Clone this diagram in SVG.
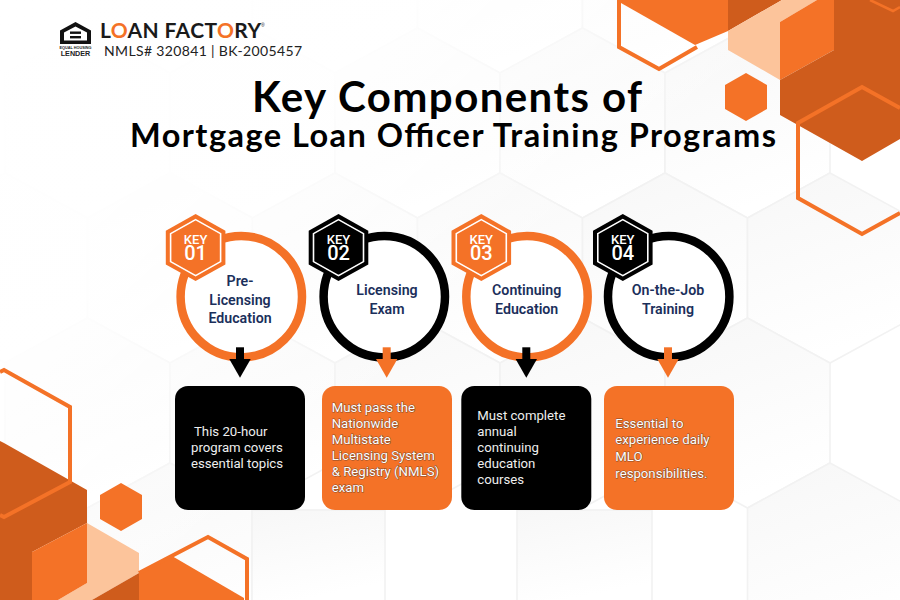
<svg xmlns="http://www.w3.org/2000/svg" width="900" height="600" viewBox="0 0 900 600">
<style>
.o{fill:#f47227}.d{fill:#cf5c1c}.p{fill:#fcc49b}
.ol{fill:none;stroke:#f47227;stroke-width:4}
.bg{fill:url(#bgg);stroke:#f2f2f2;stroke-width:1.6}
.t{font-family:"Lato","Liberation Sans",sans-serif;font-weight:700;fill:#000;text-anchor:middle}
.lab{font-family:"Roboto","Liberation Sans",sans-serif;font-weight:600;font-size:14.2px;fill:#1b2f5b;text-anchor:middle}
.key{font-family:"Roboto","Liberation Sans",sans-serif;font-weight:500;font-size:13px;fill:#fff;text-anchor:middle}
.num{font-family:"Roboto","Liberation Sans",sans-serif;font-weight:500;font-size:20px;fill:#fff;text-anchor:middle}
.c{font-family:"Roboto","Liberation Sans",sans-serif;font-size:13.2px;fill:#eeeeee}
.co{stroke:#5c3a28;stroke-width:1;paint-order:stroke;stroke-opacity:.75;fill:#fff}
.ring{fill:#fff;stroke-width:8.5}
.hi{fill:none;stroke:#fff;stroke-width:1.6}
</style>
<defs>
<linearGradient id="bgg" x1="0" y1="0" x2="0.3" y2="1"><stop offset="0" stop-color="#f7f7f7"/><stop offset="1" stop-color="#ffffff"/></linearGradient>
<linearGradient id="fade" x1="0" y1="0" x2="1" y2="0.75"><stop offset="0" stop-color="#fff"/><stop offset="0.3" stop-color="#fff" stop-opacity=".9"/><stop offset="0.6" stop-color="#fff" stop-opacity="0"/></linearGradient>
<polygon id="bh" points="0,-95 82.5,-50 82.5,50 0,95 -82.5,50 -82.5,-50"/>
<polygon id="kh" points="0,-33.5 29.8,-16.8 29.8,16.8 0,33.5 -29.8,16.8 -29.8,-16.8"/>
<polygon id="ki" points="0,-28 25,-14 25,14 0,28 -25,14 -25,-14"/>
<polygon id="sh" points="0,-24 21,-12 21,12 0,24 -21,12 -21,-12"/>
<g id="ar"><rect x="-4" y="347.3" width="8" height="12"/><polygon points="-10.7,359 10.7,359 0,377.7"/></g>
</defs>
<rect width="900" height="600" fill="#fff"/>
<g id="background">
<use href="#bh" x="5" y="-22" class="bg"/><use href="#bh" x="170" y="-22" class="bg"/><use href="#bh" x="335" y="-22" class="bg"/><use href="#bh" x="500" y="-22" class="bg"/><use href="#bh" x="665" y="-22" class="bg"/><use href="#bh" x="830" y="-22" class="bg"/>
<use href="#bh" x="87.5" y="123" class="bg"/><use href="#bh" x="252.5" y="123" class="bg"/><use href="#bh" x="417.5" y="123" class="bg"/><use href="#bh" x="582.5" y="123" class="bg"/><use href="#bh" x="747.5" y="123" class="bg"/>
<use href="#bh" x="5" y="268" class="bg"/><use href="#bh" x="170" y="268" class="bg"/><use href="#bh" x="335" y="268" class="bg"/><use href="#bh" x="500" y="268" class="bg"/><use href="#bh" x="665" y="268" class="bg"/><use href="#bh" x="830" y="268" class="bg"/>
<use href="#bh" x="87.5" y="413" class="bg"/><use href="#bh" x="252.5" y="413" class="bg"/><use href="#bh" x="417.5" y="413" class="bg"/><use href="#bh" x="582.5" y="413" class="bg"/><use href="#bh" x="747.5" y="413" class="bg"/>
<use href="#bh" x="5" y="558" class="bg"/><use href="#bh" x="170" y="558" class="bg"/><use href="#bh" x="830" y="558" class="bg"/>
<rect x="252" y="510" width="133" height="92" class="bg"/><rect x="517" y="510" width="135" height="92" class="bg"/>
<rect width="900" height="600" fill="url(#fade)"/>
</g>
<g id="decor-top-right">
<polygon class="o" points="621,3 695,45 728,31 728,0 621,0"/>
<polygon class="d" points="728,0 782,0 728,31"/>
<polygon class="p" points="728,31 782,0 817,0 780,22 780,80 728,50"/>
<polygon class="o" points="780,22 817,0 834,0 834,50 780,80"/>
<polygon class="d" points="780,80 780,115 862,161 900,139 900,0 834,0 834,50"/>
<polyline class="ol" points="619,0 619,47 659,69 697,47"/>
<polyline class="ol" points="900,108 862,87 798,123 798,198 862,234 900,213"/>
<polyline class="ol" points="870,0 893,11 900,7" style="stroke-width:2.5"/>
<use href="#sh" x="746" y="97" class="o"/>
</g>
<g id="decor-bottom-left">
<polygon class="p" points="87,523 139,553 139,573 92,600 58,600 87,583"/>
<polygon class="d" points="0,441 4,443 87,490 87,523 32,552 32,600 0,600"/>
<polygon class="o" points="32,552 87,523 87,583 58,600 32,600"/>
<polygon class="d" points="92,600 139,573 139,600"/>
<polygon class="o" points="139,573 172,556 244,598 244,600 139,600"/>
<polyline class="ol" points="139,573 208,537 247,559 247,600"/>
<polyline class="ol" points="0,372 4,370 70,407 70,482 4,517 0,515"/>
<use href="#sh" x="121" y="507" class="o"/>
</g>
<g id="logo">
<path d="M75.5,22 L91,30.5 V44 H60 V30.5 Z M64,32.5 V40.5 H87 V32.5 L75.5,26.5 Z" fill="#111"/>
<rect x="70" y="31.5" width="11" height="2.4" fill="#111"/><rect x="70" y="36" width="11" height="2.4" fill="#111"/>
<text x="75.5" y="48.5" font-family="Liberation Sans,sans-serif" font-size="3.8" font-weight="700" text-anchor="middle" fill="#222">EQUAL HOUSING</text>
<text x="75.5" y="55.5" font-family="Liberation Sans,sans-serif" font-size="7.2" font-weight="700" text-anchor="middle" fill="#222">LENDER</text>
<text x="100" y="37.5" font-family="Lato,Liberation Sans,sans-serif" font-size="21" font-weight="700" fill="#1a1a1a" textLength="161">L<tspan fill="#f47227">O</tspan>AN FACT<tspan fill="#f47227">O</tspan>RY</text>
<text x="261" y="27" font-family="Liberation Sans,sans-serif" font-size="5" fill="#1a1a1a">®</text>
<text x="104" y="56" font-family="Lato,Liberation Sans,sans-serif" font-size="14" fill="#222" textLength="198">NMLS# 320841 | BK-2005457</text>
</g>
<g id="title">
<text x="447" y="112" class="t" font-size="42" textLength="390">Key Components of</text>
<text x="453" y="147" class="t" font-size="32.5" textLength="646">Mortgage Loan Officer Training Programs</text>
</g>
<g id="node-1">
<circle cx="241.3" cy="296.7" r="60.7" class="ring" stroke="#f47227"/>
<use href="#kh" x="195.6" y="247.6" class="o"/><use href="#ki" x="195.6" y="247.6" class="hi"/>
<text x="195.6" y="244" class="key">KEY</text><text x="195.6" y="259.5" class="num">01</text>
<text x="240" y="286" class="lab">Pre-</text><text x="240" y="305" class="lab">Licensing</text><text x="240" y="323" class="lab">Education</text>
<rect x="175" y="386" width="130" height="124" rx="13" fill="#000"/>
<text class="c"><tspan x="194" y="436">This 20-hour</tspan><tspan x="191" y="452">program covers</tspan><tspan x="191" y="468">essential topics</tspan></text>
</g>
<g id="node-2">
<circle cx="384.3" cy="296.7" r="60.7" class="ring" stroke="#000"/>
<use href="#kh" x="338.5" y="247.6" fill="#000"/><use href="#ki" x="338.5" y="247.6" class="hi"/>
<text x="338.5" y="244" class="key">KEY</text><text x="338.5" y="259.5" class="num">02</text>
<text x="387" y="295" class="lab">Licensing</text><text x="387" y="314" class="lab">Exam</text>
<rect x="322" y="386" width="130" height="124" rx="13" class="o"/>
<text class="c co"><tspan x="331.7" y="412">Must pass the</tspan><tspan x="331.7" y="428">Nationwide</tspan><tspan x="331.7" y="444">Multistate</tspan><tspan x="331.7" y="460">Licensing System</tspan><tspan x="331.7" y="476">&amp; Registry (NMLS)</tspan><tspan x="331.7" y="492">exam</tspan></text>
</g>
<g id="node-3">
<circle cx="527" cy="296.7" r="60.7" class="ring" stroke="#f47227"/>
<use href="#kh" x="481.3" y="247.6" class="o"/><use href="#ki" x="481.3" y="247.6" class="hi"/>
<text x="481.3" y="244" class="key">KEY</text><text x="481.3" y="259.5" class="num">03</text>
<text x="526.7" y="295" class="lab">Continuing</text><text x="526.7" y="314" class="lab">Education</text>
<rect x="461.3" y="386" width="130" height="124" rx="13" fill="#000"/>
<text class="c"><tspan x="477.3" y="420">Must complete</tspan><tspan x="477.3" y="436">annual</tspan><tspan x="477.3" y="452">continuing</tspan><tspan x="477.3" y="468">education</tspan><tspan x="477.3" y="484">courses</tspan></text>
</g>
<g id="node-4">
<circle cx="668.7" cy="296.7" r="60.7" class="ring" stroke="#000"/>
<use href="#kh" x="622.8" y="247.6" fill="#000"/><use href="#ki" x="622.8" y="247.6" class="hi"/>
<text x="622.8" y="244" class="key">KEY</text><text x="622.8" y="259.5" class="num">04</text>
<text x="668" y="295" class="lab">On-the-Job</text><text x="668" y="314" class="lab">Training</text>
<rect x="604" y="386" width="130" height="124" rx="13" class="o"/>
<text class="c co"><tspan x="615.3" y="428">Essential to</tspan><tspan x="615.3" y="444">experience daily</tspan><tspan x="615.3" y="461">MLO</tspan><tspan x="615.3" y="478">responsibilities.</tspan></text>
</g>
<g id="connectors">
<use href="#ar" x="240" fill="#000"/>
<use href="#ar" x="386.7" fill="#f47227"/>
<use href="#ar" x="526.3" fill="#000"/>
<use href="#ar" x="668" fill="#f47227"/>
</g>
</svg>
